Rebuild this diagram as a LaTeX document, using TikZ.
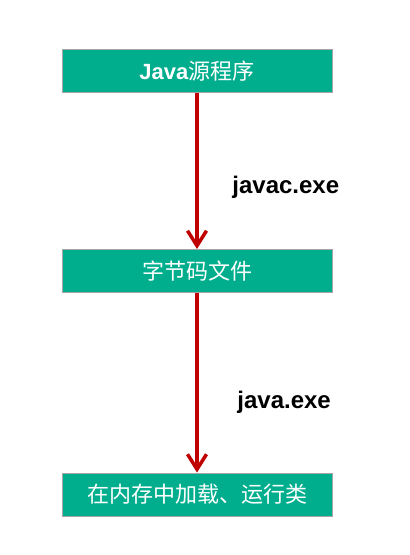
\documentclass[tikz,border=0pt]{standalone}
\usepackage{fontspec}
\setmainfont{Liberation Sans}
\newfontfamily\cjk{Noto Sans CJK SC}
\usetikzlibrary{arrows.meta}
\definecolor{boxgreen}{RGB}{0,174,142}
\definecolor{boxedge}{RGB}{165,165,165}
\definecolor{flowred}{RGB}{192,0,0}

\begin{document}
\begin{tikzpicture}[x=0.5pt,y=-0.5pt]
\tikzstyle{every node}+=[inner sep=0pt]
\tikzstyle{stage}=[draw=boxedge,line width=0.5pt,fill=boxgreen,text=white,minimum width=135pt,minimum height=21.5pt,font=\fontsize{11}{13}\selectfont]
\tikzstyle{flow}=[flowred,line width=1.75pt,-{Straight Barb[length=7.5pt,width=9.5pt,line width=1.75pt]}]
\tikzstyle{tool}=[anchor=west,font=\fontsize{12}{14}\selectfont\bfseries]
\useasboundingbox (0,0) rectangle (410,555);
\node [stage] (src) at (197,71.5) {\textbf{Java}\cjk 源程序};
\node [stage] (bytecode) at (197,271) {\cjk 字节码文件};
\node [stage] (run) at (197,494.5) {\cjk 在内存中加载、运行类};
\draw [flow] (src) -- (bytecode);
\draw [flow] (bytecode) -- (run);
\node [tool] (javac) at (232,187) {javac.exe};
\node [tool] (java) at (237,402) {java.exe};
\end{tikzpicture}
\end{document}
